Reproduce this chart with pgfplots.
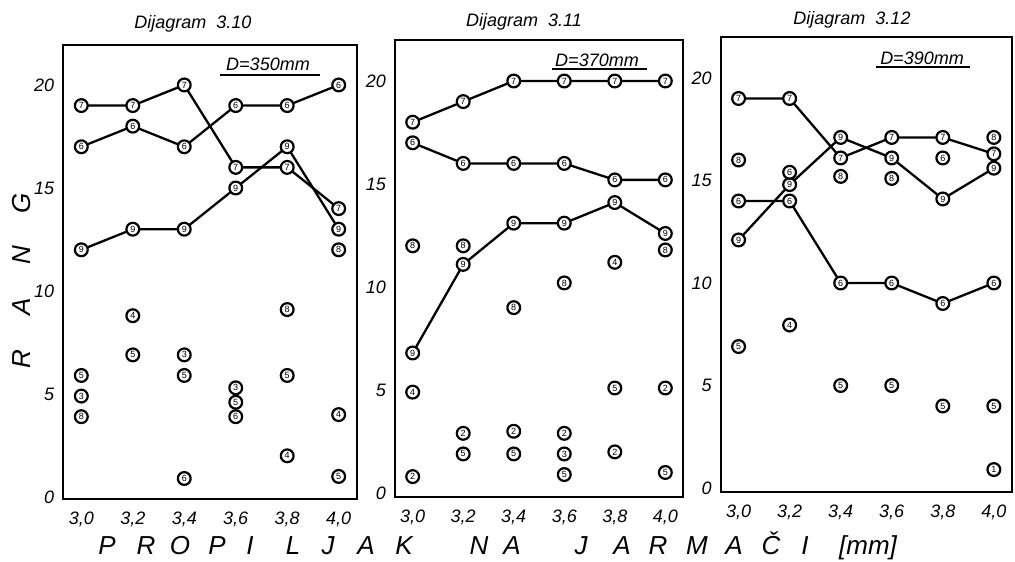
\documentclass[border=0pt]{standalone}
\usepackage{fontspec}
\setmainfont{Liberation Sans}
\usepackage{pgfplots}
\pgfplotsset{compat=1.18}
\begin{document}
\begin{tikzpicture}[x=1pt,y=1pt]
\path[use as bounding box] (0pt,0pt) rectangle (507.5pt,280.5pt);
\pgfplotsset{
 panel/.style={scale only axis, xmin=2.93, xmax=4.07, clip=false,
   axis line style={line width=1pt}, major tick length=0pt,
   xtick={3,3.2,3.4,3.6,3.8,4}, xticklabels={{3,0},{3,2},{3,4},{3,6},{3,8},{4,0}},
   ytick={0,5,10,15,20}, yticklabels={0,5,10,15,20},
   ticklabel style={font=\itshape\fontsize{9}{10}\selectfont},
   xticklabel style={yshift=-3pt}, yticklabel style={xshift=-1pt}},
 ser/.style={black, line width=1.15pt, line join=round, mark=*, mark size=3.2pt,
   mark options={fill=white, draw=black, line width=1.1pt},
   nodes near coords, point meta=explicit symbolic, nodes near coords align={center},
   every node near coord/.append style={font=\fontsize{4.5}{4.5}\selectfont, inner sep=0pt, anchor=center}},
 pts/.style={ser, only marks},
}
% ---------------- Panel 3.10 ----------------
\begin{axis}[panel, at={(31.65pt,30.85pt)}, anchor=south west, width=146.7pt, height=227.15pt,
  ymin=-0.11, ymax=21.94, yticklabel style={xshift=0pt}]
\addplot[ser] table[meta=l] {
x y l
3.0 19 7
3.2 19 7
3.4 20 7
3.6 16 7
3.8 16 7
4.0 14 7
};
\addplot[ser] table[meta=l] {
x y l
3.0 17 6
3.2 18 6
3.4 17 6
3.6 19 6
3.8 19 6
4.0 20 6
};
\addplot[ser] table[meta=l] {
x y l
3.0 12 9
3.2 13 9
3.4 13 9
3.6 15 9
3.8 17 9
4.0 13 9
};
\addplot[pts] table[meta=l] {
x y l
4.0 12 8
3.0 5.9 5
3.0 4.9 3
3.0 3.9 8
3.2 8.8 4
3.2 6.9 5
3.4 6.9 3
3.4 5.9 5
3.4 0.9 6
3.6 5.3 3
3.6 4.6 5
3.6 3.9 6
3.8 9.1 8
3.8 5.9 5
3.8 2.0 4
4.0 4.0 4
4.0 1.0 5
};
\end{axis}
% ---------------- Panel 3.11 ----------------
\begin{axis}[panel, at={(197.5pt,32pt)}, anchor=south west, width=144pt, height=228.5pt,
  ymin=-0.19, ymax=21.99]
\addplot[ser] table[meta=l] {
x y l
3.0 18 7
3.2 19 7
3.4 20 7
3.6 20 7
3.8 20 7
4.0 20 7
};
\addplot[ser] table[meta=l] {
x y l
3.0 17 6
3.2 16 6
3.4 16 6
3.6 16 6
3.8 15.2 6
4.0 15.2 6
};
\addplot[ser] table[meta=l] {
x y l
3.0 6.8 9
3.2 11.1 9
3.4 13.1 9
3.6 13.1 9
3.8 14.1 9
4.0 12.6 9
};
\addplot[pts] table[meta=l] {
x y l
3.0 12 8
3.2 12 8
3.8 11.2 4
4.0 11.8 8
3.0 4.9 4
3.0 0.8 2
3.2 2.9 2
3.2 1.9 5
3.4 9.0 8
3.4 3.0 2
3.4 1.9 5
3.6 10.2 8
3.6 2.9 2
3.6 1.9 3
3.6 0.9 5
3.8 5.1 5
3.8 2.0 2
4.0 5.1 2
4.0 1.0 5
};
\end{axis}
% ---------------- Panel 3.12 ----------------
\begin{axis}[panel, at={(360.35pt,34.65pt)}, anchor=south west, width=145.5pt, height=227.35pt,
  ymin=-0.18, ymax=22.0]
\addplot[ser] table[meta=l] {
x y l
3.0 19 7
3.2 19 7
3.4 16.1 7
3.6 17.1 7
3.8 17.1 7
4.0 16.3 7
};
\addplot[ser] table[meta=l] {
x y l
3.0 12.1 9
3.2 14.8 9
3.4 17.1 9
3.6 16.1 9
3.8 14.1 9
4.0 15.6 9
};
\addplot[ser] table[meta=l] {
x y l
3.0 14 6
3.2 14 6
3.4 10 6
3.6 10 6
3.8 9 6
4.0 10 6
};
\addplot[pts] table[meta=l] {
x y l
3.0 16.0 8
3.2 15.4 6
3.4 15.2 8
3.6 15.1 8
3.8 16.1 6
4.0 17.1 8
3.0 6.9 5
3.2 7.95 4
3.4 5.0 5
3.6 5.0 5
3.8 4.0 5
4.0 4.0 5
4.0 0.9 1
};
\end{axis}
% ---------------- Titles and annotations ----------------
\begin{scope}[every node/.style={font=\itshape\fontsize{9}{10}\selectfont}]
\node at (96.5pt,268.5pt) {Dijagram\ \ 3.10};
\node at (262pt,269.5pt) {Dijagram\ \ 3.11};
\node at (426pt,270.5pt) {Dijagram\ \ 3.12};
\node at (134pt,248.5pt) {D=350mm};
\node at (298.5pt,250.5pt) {D=370mm};
\node at (461pt,251.5pt) {D=390mm};
\end{scope}
\draw[line width=0.8pt] (110pt,243pt) -- (160pt,243pt);
\draw[line width=0.8pt] (276pt,246pt) -- (323.5pt,246pt);
\draw[line width=0.8pt] (438pt,247pt) -- (485pt,247pt);
% y label
\begin{scope}[every node/.style={font=\itshape\fontsize{13}{13}\selectfont, rotate=90, inner sep=1pt}]
\node at (11pt,179pt) {G};
\node at (11pt,153pt) {N};
\node at (11pt,127pt) {A};
\node at (11pt,101pt) {R};
\end{scope}
% x label
\begin{scope}[every node/.style={font=\itshape\fontsize{13}{13}\selectfont, inner sep=1pt}]
\foreach \xx/\ll in {107/P,146/R,180/O,217/P,250/I,293/L,328/J,366/A,404/K,479/N,512/A,581/J,622/A,658/R,697/M,734/A,771/Č,805/I,868/[mm]}
  \node[anchor=base] at (\xx pt/2,3pt) {\ll};
\end{scope}
\end{tikzpicture}
\end{document}
